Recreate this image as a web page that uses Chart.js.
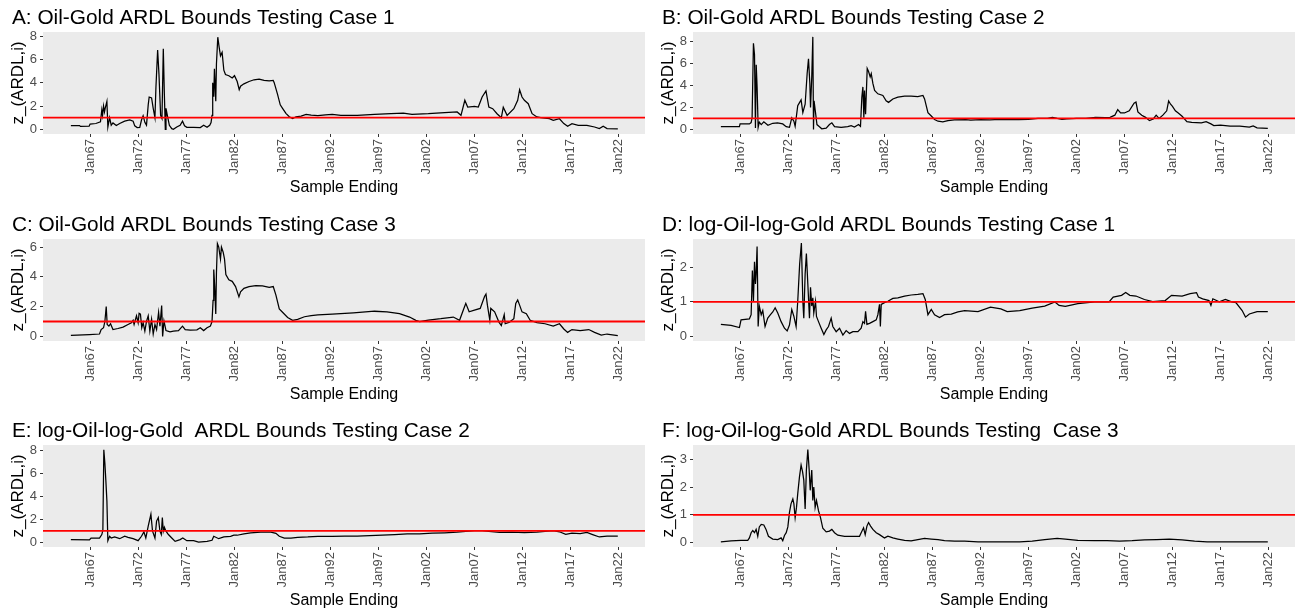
<!DOCTYPE html>
<html>
<head>
<meta charset="utf-8">
<script src="https://cdn.jsdelivr.net/npm/chart.js@4.4.1/dist/chart.umd.min.js"></script>
<style>
    body { margin: 0; background: #fff; width: 1297px; height: 615px; overflow: hidden; position: relative; }
    .panel { position: absolute; height: 202px; }
</style>
</head>
<body>
<div class="panel" style="left:0;top:0;width:650px"><canvas id="pA" width="650" height="202"></canvas></div>
<div class="panel" style="left:650px;top:0;width:647px"><canvas id="pB" width="647" height="202"></canvas></div>
<div class="panel" style="left:0;top:207px;width:650px"><canvas id="pC" width="650" height="202"></canvas></div>
<div class="panel" style="left:650px;top:207px;width:647px"><canvas id="pD" width="647" height="202"></canvas></div>
<div class="panel" style="left:0;top:413px;width:650px"><canvas id="pE" width="650" height="202"></canvas></div>
<div class="panel" style="left:650px;top:413px;width:647px"><canvas id="pF" width="647" height="202"></canvas></div>
<script>
// x axis: sample ending date as decimal year
const tickYears = [1967, 1972, 1977, 1982, 1987, 1992, 1997, 2002, 2007, 2012, 2017, 2022];
const tickLabels = ['Jan67', 'Jan72', 'Jan77', 'Jan82', 'Jan87', 'Jan92', 'Jan97', 'Jan02', 'Jan07', 'Jan12', 'Jan17', 'Jan22'];
const xMin = 1962.1, xMax = 2024.75;
const threshold = 1;

// [year, z_(ARDL,i)]
const seriesA = [
    [1965.0,0.32],[1965.9,0.32],[1966.0,0.25],[1966.9,0.27],[1967.0,0.45],[1967.6,0.5],[1968.08,0.64],[1968.22,1.66],
    [1968.3,1.2],[1968.4,2.0],[1968.5,1.5],[1968.57,1.8],[1968.75,2.4],[1968.85,0.2],[1969.03,1.0],[1969.2,0.35],
    [1969.38,0.55],[1969.73,0.32],[1970.08,0.5],[1970.6,0.7],[1971.13,0.8],[1971.48,0.7],[1971.65,0.3],[1971.9,0.15],
    [1972.17,0.17],[1972.35,0.8],[1972.52,1.17],[1972.7,0.6],[1972.87,0.35],[1973.05,2.1],[1973.15,2.77],[1973.4,2.7],
    [1973.57,1.8],[1973.75,1.0],[1973.85,3.55],[1974.03,6.8],[1974.17,4.7],[1974.34,1.2],[1974.48,0.93],[1974.62,6.9],
    [1974.73,3.0],[1974.83,0.0],[1974.9,1.8],[1975.04,1.2],[1975.25,0.35],[1975.5,0.06],[1975.67,0.0],[1976.02,0.2],
    [1976.37,0.35],[1976.62,0.7],[1976.83,0.3],[1977.07,0.17],[1977.77,0.17],[1978.47,0.15],[1978.82,0.35],[1979.17,0.17],
    [1979.45,0.35],[1979.59,0.58],[1979.69,1.2],[1979.76,4.0],[1979.87,2.8],[1979.94,5.2],[1980.08,2.4],[1980.15,5.6],
    [1980.29,7.9],[1980.43,7.05],[1980.57,6.3],[1980.74,6.6],[1980.92,5.07],[1981.09,4.7],[1981.44,4.6],[1981.79,4.4],
    [1982.03,4.6],[1982.31,4.1],[1982.52,3.4],[1982.66,3.7],[1983.01,3.9],[1983.54,4.1],[1984.06,4.25],[1984.59,4.3],
    [1985.11,4.2],[1985.64,4.15],[1986.06,4.2],[1986.16,4.0],[1986.51,3.0],[1986.79,2.1],[1987.03,1.8],[1987.38,1.37],
    [1987.73,1.08],[1988.08,0.93],[1988.43,1.08],[1988.96,1.14],[1989.48,1.28],[1990.01,1.22],[1990.71,1.17],[1991.5,1.25],
    [1992.2,1.29],[1993.1,1.2],[1994.8,1.2],[1996.6,1.29],[1998.3,1.34],[1999.6,1.4],[2000.5,1.29],[2002.2,1.34],
    [2003.9,1.43],[2005.2,1.49],[2005.6,1.2],[2006.0,2.49],[2006.3,1.91],[2007.0,1.97],[2007.4,1.91],[2007.8,2.77],
    [2008.2,3.29],[2008.5,1.91],[2008.9,1.77],[2009.35,1.34],[2009.8,1.0],[2010.0,1.9],[2010.4,1.2],[2011.1,1.77],
    [2011.5,2.49],[2011.7,3.4],[2011.95,2.77],[2012.2,2.49],[2012.6,2.2],[2013.0,1.34],[2013.5,1.06],[2013.9,1.0],
    [2014.8,0.91],[2015.2,0.77],[2015.85,0.91],[2016.3,0.49],[2016.7,0.26],[2017.15,0.49],[2017.8,0.34],[2018.7,0.34],
    [2019.5,0.2],[2020.0,0.06],[2020.4,0.26],[2020.8,0.06],[2021.92,0.03]
];
const seriesB = [
    [1965.0,0.25],[1966.93,0.25],[1967.0,0.5],[1967.97,0.5],[1968.15,0.62],[1968.25,1.06],[1968.39,7.87],[1968.5,6.84],
    [1968.6,0.12],[1968.68,5.9],[1968.77,3.9],[1968.88,0.19],[1969.0,0.66],[1969.2,0.44],[1969.47,0.69],[1969.9,0.37],
    [1970.4,0.56],[1970.9,0.6],[1971.44,0.5],[1971.8,0.25],[1972.14,0.19],[1972.38,1.06],[1972.6,0.75],[1972.73,0.28],
    [1973.0,2.16],[1973.2,2.47],[1973.35,2.69],[1973.53,1.53],[1973.77,2.3],[1973.98,5.1],[1974.12,6.44],[1974.26,4.2],
    [1974.33,2.0],[1974.46,4.8],[1974.57,8.45],[1974.64,0.0],[1974.7,2.62],[1974.85,1.53],[1975.0,0.44],[1975.26,0.25],
    [1975.5,0.06],[1975.96,0.12],[1976.3,0.44],[1976.55,0.6],[1976.83,0.25],[1977.52,0.19],[1978.2,0.25],[1978.56,0.34],
    [1978.9,0.22],[1979.33,0.44],[1979.53,0.28],[1979.67,2.94],[1979.78,3.88],[1979.88,1.06],[1979.95,3.56],[1980.06,1.38],
    [1980.23,5.56],[1980.37,5.28],[1980.54,4.8],[1980.65,5.1],[1980.82,4.2],[1981.0,3.56],[1981.34,3.25],[1981.86,3.1],
    [1982.2,2.62],[1982.45,2.47],[1982.9,2.78],[1983.42,2.94],[1984.12,3.03],[1984.8,3.03],[1985.5,3.0],[1986.03,3.1],
    [1986.2,2.78],[1986.55,1.53],[1986.9,1.22],[1987.24,0.9],[1987.6,0.75],[1988.1,0.69],[1988.63,0.81],[1989.3,0.88],
    [1990.5,0.9],[1991.0,0.85],[1992.0,0.9],[1993.0,0.88],[1994.0,0.92],[1995.0,0.9],[1996.0,0.9],[1997.0,0.92],
    [1998.0,1.0],[1999.0,1.0],[1999.5,1.1],[2000.0,1.0],[2000.5,0.92],[2001.0,0.95],[2002.0,1.0],[2003.0,1.0],
    [2004.0,1.1],[2005.0,1.08],[2005.5,1.1],[2006.0,1.3],[2006.3,1.8],[2006.6,1.5],[2007.0,1.5],[2007.5,1.7],
    [2008.0,2.4],[2008.2,2.5],[2008.4,1.6],[2008.8,1.3],[2009.2,1.1],[2009.6,0.8],[2010.0,0.95],[2010.3,1.3],
    [2010.6,1.0],[2011.0,1.3],[2011.4,1.7],[2011.6,2.6],[2011.8,2.3],[2012.0,2.1],[2012.3,1.7],[2012.6,1.5],
    [2013.0,1.2],[2013.5,0.7],[2014.0,0.65],[2015.0,0.6],[2015.5,0.7],[2016.0,0.5],[2016.3,0.35],[2017.0,0.4],
    [2018.0,0.3],[2019.0,0.3],[2020.0,0.2],[2020.4,0.32],[2020.8,0.15],[2021.92,0.1]
];
const seriesC = [
    [1965.0,0.07],[1966.93,0.12],[1967.98,0.16],[1968.15,0.46],[1968.4,0.58],[1968.54,1.0],[1968.68,2.0],[1968.78,0.8],
    [1968.96,0.69],[1969.13,0.85],[1969.38,0.46],[1969.9,0.53],[1970.43,0.62],[1970.95,0.8],[1971.3,0.92],[1971.48,1.08],
    [1971.58,0.8],[1971.83,1.38],[1972.0,0.92],[1972.1,1.55],[1972.24,1.5],[1972.38,0.58],[1972.52,0.92],[1972.7,0.35],
    [1972.87,1.0],[1973.05,1.38],[1973.22,0.35],[1973.4,1.15],[1973.57,0.16],[1973.75,0.8],[1973.92,0.46],[1974.13,1.62],
    [1974.27,0.69],[1974.45,2.08],[1974.55,0.0],[1974.69,1.04],[1974.9,0.39],[1975.32,0.3],[1975.67,0.35],[1976.2,0.39],
    [1976.62,0.69],[1976.9,0.46],[1977.42,0.42],[1978.12,0.44],[1978.47,0.58],[1978.82,0.39],[1979.17,0.58],[1979.52,0.69],
    [1979.69,1.0],[1979.8,2.42],[1979.87,4.5],[1979.97,3.35],[1980.08,1.5],[1980.15,4.27],[1980.25,6.24],[1980.39,6.0],
    [1980.57,5.2],[1980.67,6.0],[1980.85,5.66],[1980.99,5.2],[1981.13,4.16],[1981.44,3.81],[1981.79,3.7],[1982.14,3.35],
    [1982.49,2.66],[1982.66,3.0],[1983.01,3.23],[1983.54,3.35],[1984.24,3.42],[1984.94,3.4],[1985.64,3.3],[1986.06,3.35],
    [1986.34,2.77],[1986.69,1.85],[1987.03,1.62],[1987.56,1.27],[1988.08,1.08],[1988.6,1.15],[1989.31,1.32],[1990.01,1.39],
    [1990.71,1.45],[1992.2,1.49],[1994.4,1.58],[1996.6,1.69],[1997.9,1.65],[1999.2,1.53],[2000.25,1.3],[2000.9,1.08],
    [2001.3,1.0],[2002.2,1.1],[2003.5,1.19],[2004.8,1.3],[2005.45,1.08],[2005.9,1.88],[2006.1,2.22],[2006.45,1.65],
    [2007.0,1.76],[2007.6,1.88],[2008.05,2.68],[2008.2,2.84],[2008.35,2.1],[2008.6,1.08],[2008.7,1.88],[2009.1,1.65],
    [2009.55,0.96],[2009.8,0.73],[2010.1,1.46],[2010.2,0.85],[2010.65,0.96],[2011.1,1.19],[2011.3,2.22],[2011.5,2.45],
    [2011.7,2.1],[2011.95,1.65],[2012.4,1.53],[2012.8,1.08],[2013.5,0.92],[2014.35,0.85],[2015.2,0.69],[2015.85,0.85],
    [2016.3,0.5],[2016.7,0.27],[2017.15,0.46],[2018.0,0.39],[2018.9,0.46],[2019.5,0.27],[2020.2,0.09],[2020.8,0.16],
    [2021.92,0.05]
];
const seriesD = [
    [1965.0,0.35],[1966.06,0.32],[1966.93,0.26],[1967.1,0.48],[1967.97,0.51],[1968.15,0.63],[1968.28,1.91],[1968.39,1.02],
    [1968.5,2.16],[1968.6,1.52],[1968.67,1.81],[1968.77,2.6],[1968.88,0.29],[1969.0,0.88],[1969.2,0.63],[1969.36,0.75],
    [1969.6,0.29],[1969.88,0.53],[1970.16,0.63],[1970.4,0.71],[1970.65,0.83],[1970.92,0.68],[1971.27,0.43],[1971.62,0.24],
    [1971.9,0.16],[1972.14,0.33],[1972.38,0.78],[1972.6,0.58],[1972.83,0.29],[1973.0,1.02],[1973.2,2.1],[1973.38,2.7],
    [1973.53,1.02],[1973.63,0.53],[1973.77,1.81],[1973.9,2.4],[1974.05,1.52],[1974.22,0.53],[1974.33,1.42],[1974.46,0.88],
    [1974.57,1.12],[1974.67,0.68],[1974.85,1.02],[1974.95,0.58],[1975.16,0.43],[1975.44,0.24],[1975.72,0.06],[1975.96,0.19],
    [1976.2,0.29],[1976.48,0.53],[1976.65,0.29],[1977.0,0.14],[1977.35,0.24],[1977.7,0.04],[1978.04,0.17],[1978.39,0.09],
    [1978.74,0.14],[1979.26,0.14],[1979.6,0.24],[1979.78,0.43],[1979.95,0.38],[1980.06,0.73],[1980.2,0.35],[1980.47,0.38],
    [1980.82,0.43],[1981.17,0.48],[1981.34,0.63],[1981.51,0.93],[1981.6,0.29],[1981.69,0.93],[1982.03,0.98],[1982.38,1.02],
    [1982.9,1.1],[1983.42,1.12],[1984.12,1.17],[1984.8,1.2],[1985.5,1.22],[1986.03,1.24],[1986.27,1.07],[1986.55,0.63],
    [1986.9,0.78],[1987.24,0.63],[1987.76,0.55],[1988.28,0.63],[1988.98,0.65],[1989.67,0.71],[1990.37,0.75],[1991.76,0.72],
    [1993.06,0.85],[1994.14,0.8],[1994.8,0.72],[1996.1,0.75],[1997.4,0.82],[1998.7,0.88],[1999.77,1.0],[2000.2,0.9],
    [2000.85,0.87],[2002.15,0.95],[2003.9,1.0],[2004.75,1.0],[2005.4,1.0],[2005.83,1.14],[2006.7,1.19],[2007.13,1.27],
    [2007.56,1.19],[2008.2,1.17],[2009.08,1.07],[2009.94,1.01],[2011.24,1.04],[2011.9,1.19],[2013.0,1.17],[2013.84,1.24],
    [2014.5,1.27],[2014.7,1.14],[2015.14,1.09],[2015.8,1.04],[2016.0,0.9],[2016.2,1.09],[2016.87,1.0],[2017.5,1.07],
    [2018.17,1.0],[2018.6,0.98],[2019.25,0.75],[2019.6,0.56],[2020.0,0.65],[2020.8,0.72],[2021.92,0.72]
];
const seriesE = [
    [1965.0,0.24],[1966.93,0.21],[1967.1,0.38],[1967.98,0.38],[1968.22,0.68],[1968.33,1.03],[1968.43,8.03],[1968.54,6.85],
    [1968.64,5.38],[1968.75,3.6],[1968.85,0.15],[1969.03,0.53],[1969.2,0.38],[1969.55,0.47],[1970.08,0.32],[1970.6,0.53],
    [1970.95,0.44],[1971.48,0.32],[1972.0,0.15],[1972.35,0.53],[1972.6,0.91],[1972.8,0.38],[1973.05,1.41],[1973.33,2.44],
    [1973.5,0.97],[1973.75,0.38],[1973.92,1.85],[1974.1,2.15],[1974.27,0.97],[1974.41,0.68],[1974.52,2.15],[1974.62,0.97],
    [1974.73,1.32],[1974.9,0.97],[1975.15,0.68],[1975.5,0.38],[1975.85,0.09],[1976.37,0.24],[1976.65,0.38],[1977.07,0.15],
    [1977.77,0.15],[1978.29,0.03],[1979.17,0.09],[1979.69,0.18],[1979.87,0.53],[1980.39,0.32],[1980.92,0.47],[1981.62,0.53],
    [1981.96,0.62],[1982.31,0.62],[1983.01,0.74],[1983.71,0.82],[1984.76,0.88],[1985.81,0.88],[1986.34,0.79],[1986.69,0.53],
    [1987.21,0.38],[1987.91,0.38],[1988.6,0.44],[1989.66,0.47],[1990.71,0.53],[1992.2,0.52],[1993.5,0.55],[1994.8,0.55],
    [1996.1,0.58],[1997.4,0.62],[1998.7,0.68],[2000.0,0.74],[2001.3,0.74],[2002.6,0.8],[2003.9,0.83],[2005.2,0.88],
    [2006.1,0.95],[2007.0,1.02],[2007.8,1.02],[2008.5,0.96],[2009.6,0.86],[2010.9,0.88],[2012.2,0.84],[2013.5,0.9],
    [2014.35,0.96],[2015.2,1.02],[2015.85,0.92],[2016.5,0.7],[2017.15,0.8],[2018.0,0.77],[2018.7,0.86],[2019.3,0.68],
    [2020.0,0.47],[2020.8,0.55],[2021.92,0.55]
];
const seriesF = [
    [1965.0,0.02],[1966.06,0.05],[1967.1,0.07],[1967.8,0.07],[1967.97,0.16],[1968.15,0.35],[1968.32,0.43],[1968.5,0.35],
    [1968.67,0.47],[1968.84,0.22],[1969.0,0.56],[1969.2,0.65],[1969.47,0.63],[1969.7,0.47],[1969.95,0.22],[1970.4,0.12],
    [1970.92,0.1],[1971.27,0.16],[1971.44,0.06],[1971.62,0.25],[1971.8,0.35],[1971.97,0.56],[1972.14,1.09],[1972.3,1.4],
    [1972.49,1.58],[1972.6,1.4],[1972.73,0.9],[1972.87,1.27],[1973.0,1.77],[1973.18,2.38],[1973.35,2.81],[1973.5,2.57],
    [1973.63,2.26],[1973.77,1.21],[1973.9,2.63],[1974.05,3.37],[1974.19,2.63],[1974.3,1.89],[1974.46,2.63],[1974.57,1.52],
    [1974.67,2.01],[1974.81,1.27],[1974.95,1.52],[1975.16,1.15],[1975.37,0.9],[1975.61,0.51],[1975.96,0.38],[1976.3,0.41],
    [1976.55,0.47],[1976.83,0.35],[1977.17,0.26],[1977.87,0.22],[1978.56,0.22],[1979.43,0.22],[1979.6,0.35],[1979.85,0.53],
    [1980.02,0.28],[1980.2,0.59],[1980.37,0.72],[1980.58,0.59],[1980.82,0.47],[1981.17,0.35],[1981.51,0.28],[1982.03,0.16],
    [1982.38,0.22],[1982.9,0.16],[1983.42,0.12],[1984.12,0.07],[1984.8,0.05],[1985.5,0.1],[1986.2,0.14],[1986.9,0.12],
    [1987.6,0.1],[1988.28,0.06],[1989.33,0.04],[1990.37,0.04],[1991.76,0.02],[1993.9,0.02],[1996.1,0.02],[1997.4,0.04],
    [1998.7,0.1],[2000.0,0.14],[2000.85,0.12],[2002.15,0.07],[2003.9,0.06],[2005.2,0.06],[2006.5,0.04],[2007.8,0.06],
    [2009.08,0.09],[2010.37,0.1],[2011.67,0.12],[2013.0,0.09],[2014.3,0.04],[2015.6,0.02],[2017.74,0.02],[2021.92,0.02]
];

const FONT = '"Liberation Sans", Arial, sans-serif';

// grey ggplot panel behind the lines
const panelBg = {
    id: 'panelBg',
    beforeDraw(chart) {
        const { ctx, chartArea: a } = chart;
        ctx.save();
        ctx.fillStyle = '#EBEBEB';
        ctx.fillRect(a.left, a.top, a.right - a.left, a.bottom - a.top);
        ctx.restore();
    }
};

function makePanel(id, title, series, yMin, yMax, yTicks, padRight) {
    const ctx = document.getElementById(id).getContext('2d');
    new Chart(ctx, {
        type: 'line',
        data: {
            datasets: [
                {
                    data: [{ x: xMin, y: threshold }, { x: xMax, y: threshold }],
                    borderColor: '#FF0000',
                    borderWidth: 1.8,
                    pointRadius: 0,
                    order: 0
                },
                {
                    data: series.map(p => ({ x: p[0], y: p[1] })),
                    borderColor: '#000000',
                    borderWidth: 1.25,
                    pointRadius: 0,
                    tension: 0,
                    order: 1
                }
            ]
        },
        options: {
            responsive: false,
            animation: false,
            devicePixelRatio: 1,
            layout: { padding: { left: 12, right: padRight, top: 0, bottom: 4 } },
            plugins: {
                legend: { display: false },
                tooltip: { enabled: false },
                title: {
                    display: true,
                    text: title,
                    align: 'start',
                    color: '#000',
                    font: { family: FONT, size: 20.8, weight: 'normal' },
                    padding: { top: 6, bottom: 1 }
                }
            },
            scales: {
                x: {
                    type: 'linear',
                    min: xMin,
                    max: xMax,
                    afterBuildTicks: s => { s.ticks = tickYears.map(v => ({ value: v })); },
                    afterFit: s => { s.height = 202 - 4 - 134; },
                    grid: { drawOnChartArea: false, drawTicks: true, tickLength: 3, tickColor: '#333333' },
                    border: { display: false },
                    ticks: {
                        autoSkip: false,
                        minRotation: 90,
                        maxRotation: 90,
                        padding: 2,
                        color: '#4D4D4D',
                        font: { family: FONT, size: 13 },
                        callback: v => tickLabels[tickYears.indexOf(v)]
                    },
                    title: {
                        display: true,
                        text: 'Sample Ending',
                        color: '#000',
                        font: { family: FONT, size: 16 },
                        padding: { top: 0, bottom: 1 }
                    }
                },
                y: {
                    min: yMin,
                    max: yMax,
                    afterBuildTicks: s => { s.ticks = yTicks.map(v => ({ value: v })); },
                    afterFit: s => { s.width = 43 - 12; },
                    grid: { drawOnChartArea: false, drawTicks: true, tickLength: 3, tickColor: '#333333' },
                    border: { display: false },
                    ticks: {
                        padding: 3,
                        color: '#4D4D4D',
                        font: { family: FONT, size: 13 }
                    },
                    title: {
                        display: true,
                        text: 'z_(ARDL,i)',
                        color: '#000',
                        font: { family: FONT, size: 17, lineHeight: 0.7 },
                        padding: 0
                    }
                }
            }
        },
        plugins: [panelBg]
    });
}

makePanel('pA', 'A: Oil-Gold ARDL Bounds Testing Case 1', seriesA, -0.4, 8.35, [0, 2, 4, 6, 8], 5);
makePanel('pB', 'B: Oil-Gold ARDL Bounds Testing Case 2', seriesB, -0.42, 8.9, [0, 2, 4, 6, 8], 2);
makePanel('pC', 'C: Oil-Gold ARDL Bounds Testing Case 3', seriesC, -0.31, 6.55, [0, 2, 4, 6], 5);
makePanel('pD', 'D: log-Oil-log-Gold ARDL Bounds Testing Case 1', seriesD, -0.13, 2.82, [0, 1, 2], 2);
makePanel('pE', 'E: log-Oil-log-Gold  ARDL Bounds Testing Case 2', seriesE, -0.4, 8.45, [0, 2, 4, 6, 8], 5);
makePanel('pF', 'F: log-Oil-log-Gold ARDL Bounds Testing  Case 3', seriesF, -0.17, 3.54, [0, 1, 2, 3], 2);
</script>
</body>
</html>
